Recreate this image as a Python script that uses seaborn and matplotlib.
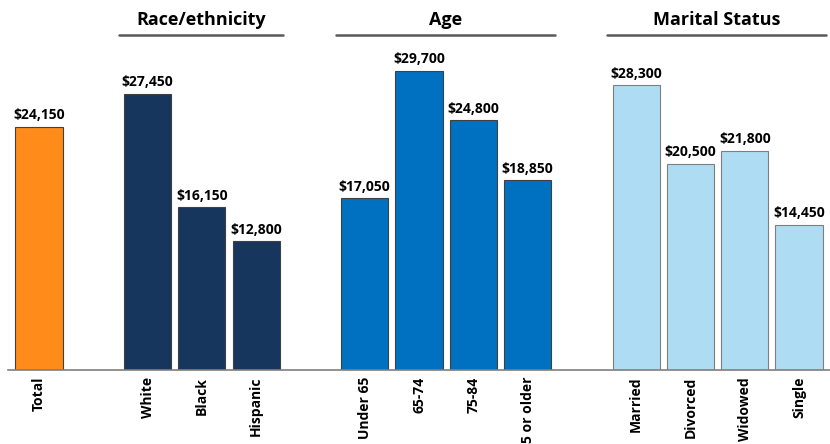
import matplotlib
matplotlib.use("Agg")
import matplotlib.pyplot as plt
import seaborn as sns
import pandas as pd

categories = ["Total", "White", "Black", "Hispanic", "Under 65", "65-74", "75-84",
              "85 or older", "Married", "Divorced", "Widowed", "Single"]
values = [24150, 27450, 16150, 12800, 17050, 29700, 24800, 18850, 28300, 20500, 21800, 14450]
groups = ["Total", "Race/ethnicity", "Race/ethnicity", "Race/ethnicity", "Age", "Age", "Age", "Age",
          "Marital Status", "Marital Status", "Marital Status", "Marital Status"]
positions = [0, 2, 3, 4, 6, 7, 8, 9, 11, 12, 13, 14]
group_names = ["Race/ethnicity", "Age", "Marital Status"]

colors = {"Total": "#FF8C1A", "Race/ethnicity": "#17365D", "Age": "#0070C0",
          "Marital Status": "#AEDCF2"}

sns.set_theme(style="white")
plt.rcParams["font.family"] = ["Open Sans", "DejaVu Sans"]

df = pd.DataFrame({"pos": positions, "value": values, "group": groups, "cat": categories})

fig = plt.figure(figsize=(8.3, 4.44), dpi=100)
ax = fig.add_axes([8 / 830, 74 / 444, 822 / 830, 370 / 444])
sns.barplot(data=df, x="pos", y="value", hue="group", palette=colors, native_scale=True,
            width=0.87, dodge=False, legend=False, ax=ax, edgecolor="#404040", linewidth=0.8,
            saturation=1)

for patch in ax.patches:
    if patch.get_facecolor()[:3] == matplotlib.colors.to_rgb(colors["Marital Status"]):
        patch.set_edgecolor("#7F7F7F")

ax.set_xlim(-0.57, 14.57)
ax.set_ylim(0, 36750)
for s in ["top", "right", "left"]:
    ax.spines[s].set_visible(False)
ax.spines["bottom"].set_color("#7F7F7F")
ax.spines["bottom"].set_linewidth(1.2)
ax.set_yticks([])
ax.set_ylabel("")
ax.set_xlabel("")
ax.set_xticks(positions)
ax.set_xticklabels(categories, rotation=90, fontsize=10, fontweight="bold", color="black")
ax.tick_params(axis="x", length=0, pad=5)

for p, v in zip(positions, values):
    ax.text(p, v + 450, f"${v:,}", ha="center", va="bottom", fontsize=10,
            fontweight="bold", color="black")

for g in group_names:
    ps = [p for p, gg in zip(positions, groups) if gg == g]
    x0, x1 = min(ps) - 0.53, max(ps) + 0.5
    ax.plot([x0, x1], [33270, 33270], color="#595959", lw=1.8, clip_on=False)
    ax.text((x0 + x1) / 2, 34750, g, ha="center", va="center", fontsize=13,
            fontweight="bold", color="black")

fig.savefig("out.png", dpi=100)
